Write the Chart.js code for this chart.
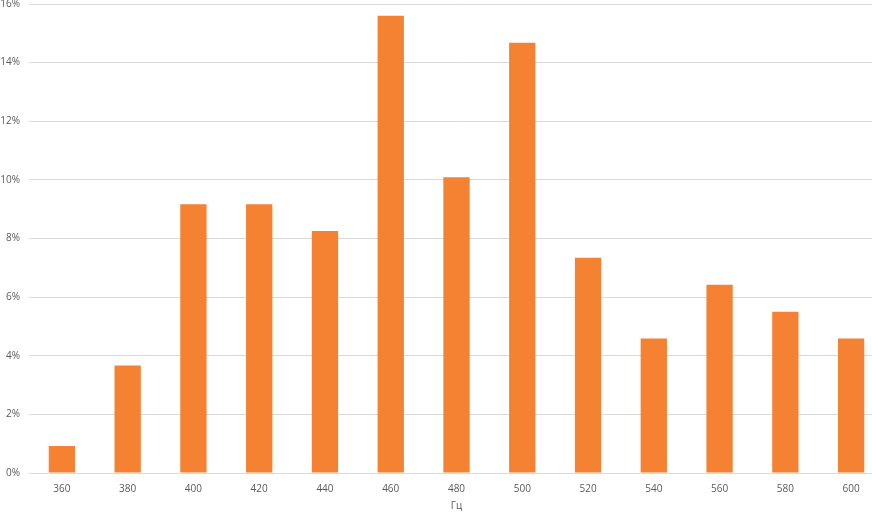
<!DOCTYPE html>
<html>
<head>
<meta charset="utf-8">
<script src="https://cdn.jsdelivr.net/npm/chart.js@4"></script>
<style>
    html, body { margin: 0; padding: 0; background: #fff; overflow: hidden; }
    #wrap { width: 872px; height: 512px; overflow: hidden; position: relative; }
    #box { width: 900px; height: 512px; position: absolute; left: 0; top: 0; }
</style>
</head>
<body>
<div id="wrap"><div id="box"><canvas id="chart"></canvas></div></div>
<script>
// Частоты (Гц)
const categories = ['360', '380', '400', '420', '440', '460', '480', '500', '520', '540', '560', '580', '600'];
// Доля, %
const shares = [0.92, 3.67, 9.17, 9.17, 8.26, 15.6, 10.09, 14.68, 7.34, 4.59, 6.42, 5.5, 4.59];
const yTicks = [0, 2, 4, 6, 8, 10, 12, 14, 16];

const textColor = '#595959';
const gridColor = '#d9d9d9';

new Chart(document.getElementById('chart'), {
    type: 'bar',
    data: {
        labels: categories,
        datasets: [{
            data: shares,
            backgroundColor: '#f58232',
            borderWidth: 0,
            barPercentage: 0.4,
            categoryPercentage: 1.0
        }]
    },
    options: {
        responsive: true,
        maintainAspectRatio: false,
        animation: false,
        layout: { padding: { top: 4, right: 16, left: 0, bottom: 0 } },
        plugins: {
            legend: { display: false },
            tooltip: { enabled: false }
        },
        scales: {
            x: {
                grid: { display: false, drawTicks: false },
                border: { display: false },
                ticks: {
                    color: textColor,
                    font: { family: 'Open Sans', size: 10 },
                    padding: 10,
                    maxRotation: 0
                },
                title: {
                    display: true,
                    text: 'Гц',
                    color: textColor,
                    font: { family: 'Open Sans', size: 10 },
                    padding: { top: 4, bottom: 0 }
                },
                afterFit: function(scale) {
                    scale.height = 39;
                    scale.paddingLeft = 0;
                    scale.paddingRight = 0;
                }
            },
            y: {
                min: 0,
                max: 16,
                afterBuildTicks: function(scale) {
                    scale.ticks = yTicks.map(v => ({ value: v }));
                },
                grid: { color: gridColor, lineWidth: 1, drawTicks: false },
                border: { display: false },
                ticks: {
                    color: textColor,
                    font: { family: 'Open Sans', size: 10 },
                    padding: 9,
                    callback: function(value) { return value + '%'; }
                },
                afterFit: function(scale) {
                    scale.width = 29;
                    scale.paddingTop = 0;
                    scale.paddingBottom = 0;
                }
            }
        }
    }
});
</script>
</body>
</html>
